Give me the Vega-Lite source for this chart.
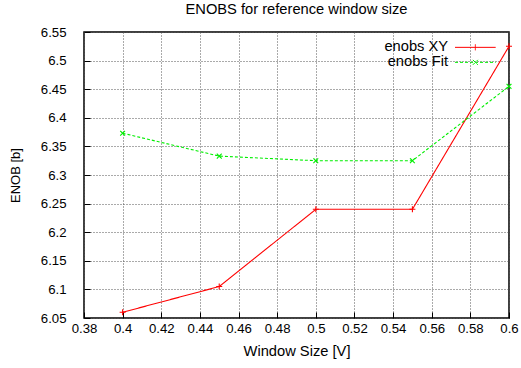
{
  "$schema": "https://vega.github.io/schema/vega-lite/v6.json",
  "width": 425,
  "height": 286,
  "autosize": {"type": "none"},
  "padding": {"left": 84, "top": 32, "right": 12, "bottom": 50},
  "background": "white",
  "title": {
    "text": "ENOBS for reference window size",
    "fontSize": 14.7,
    "fontWeight": "normal",
    "font": "Liberation Sans",
    "color": "black",
    "anchor": "middle",
    "offset": 8
  },
  "config": {
    "font": "Liberation Sans",
    "view": {"stroke": "black", "strokeWidth": 1.5},
    "axis": {
      "labelFont": "Liberation Sans",
      "labelFontSize": 13.2,
      "labelColor": "black",
      "titleFont": "Liberation Sans",
      "titleFontWeight": "normal",
      "titleColor": "black",
      "domain": false,
      "tickColor": "black",
      "tickSize": -6,
      "grid": true,
      "gridColor": "#555555",
      "gridDash": [1, 2],
      "gridWidth": 1,
      "format": "~g"
    }
  },
  "data": {
    "values": [
      {"size": 0.40, "enob": 6.060, "series": "enobs XY"},
      {"size": 0.45, "enob": 6.105, "series": "enobs XY"},
      {"size": 0.50, "enob": 6.240, "series": "enobs XY"},
      {"size": 0.55, "enob": 6.240, "series": "enobs XY"},
      {"size": 0.60, "enob": 6.525, "series": "enobs XY"},
      {"size": 0.40, "enob": 6.373, "series": "enobs Fit"},
      {"size": 0.45, "enob": 6.333, "series": "enobs Fit"},
      {"size": 0.50, "enob": 6.325, "series": "enobs Fit"},
      {"size": 0.55, "enob": 6.325, "series": "enobs Fit"},
      {"size": 0.60, "enob": 6.455, "series": "enobs Fit"}
    ]
  },
  "encoding": {
    "x": {
      "field": "size",
      "type": "quantitative",
      "title": "Window Size [V]",
      "scale": {"domain": [0.38, 0.6], "nice": false, "zero": false},
      "axis": {"values": [0.38, 0.4, 0.42, 0.44, 0.46, 0.48, 0.5, 0.52, 0.54, 0.56, 0.58, 0.6], "format": "~g", "labelPadding": 10, "titlePadding": 9, "titleFontSize": 14.7, "labelFlush": false}
    },
    "y": {
      "field": "enob",
      "type": "quantitative",
      "title": "ENOB [b]",
      "scale": {"domain": [6.05, 6.55], "nice": false, "zero": false},
      "axis": {"values": [6.05, 6.1, 6.15, 6.2, 6.25, 6.3, 6.35, 6.4, 6.45, 6.5, 6.55], "format": "~g", "labelPadding": 24, "titlePadding": 18, "titleFontSize": 13, "labelFlush": false}
    },
    "color": {
      "field": "series",
      "type": "nominal",
      "scale": {"domain": ["enobs XY", "enobs Fit"], "range": ["#ff0000", "#00ee00"]},
      "legend": {
        "title": null,
        "orient": "none",
        "legendX": 384,
        "legendY": 8,
        "padding": 0,
        "labelFont": "Liberation Sans",
        "labelFontSize": 14.7,
        "labelColor": "black",
        "labelAlign": "right",
        "labelOffset": -34.6,
        "symbolSize": 100,
        "symbolStrokeWidth": 1,
        "rowPadding": -3,
        "encode": {
          "symbols": {
            "update": {
              "shape": {"signal": "datum.value === 'enobs XY' ? 'M-4.07,0L4.07,0M0,-0.6L0,0.6' : 'M-4.07,0L4.07,0M-0.5,-0.5L0.5,0.5M-0.5,0.5L0.5,-0.5'"}
            }
          }
        }
      }
    },
    "strokeDash": {
      "field": "series",
      "type": "nominal",
      "scale": {"domain": ["enobs XY", "enobs Fit"], "range": [[1, 0], [3, 2]]},
      "legend": null
    }
  },
  "layer": [
    {
      "mark": {"type": "line", "strokeWidth": 1.1}
    },
    {
      "transform": [{"filter": "datum.series === 'enobs XY'"}],
      "mark": {"type": "point", "filled": false, "strokeWidth": 1.1, "size": 36, "opacity": 1, "shape": "M-1,0L1,0M0,-1L0,1"},
      "encoding": {"strokeDash": {"value": [1, 0]}}
    },
    {
      "transform": [{"filter": "datum.series === 'enobs Fit'"}],
      "mark": {"type": "point", "filled": false, "strokeWidth": 1.1, "size": 36, "opacity": 1, "shape": "M-0.8,-0.8L0.8,0.8M-0.8,0.8L0.8,-0.8"},
      "encoding": {"strokeDash": {"value": [1, 0]}}
    }
  ]
}
